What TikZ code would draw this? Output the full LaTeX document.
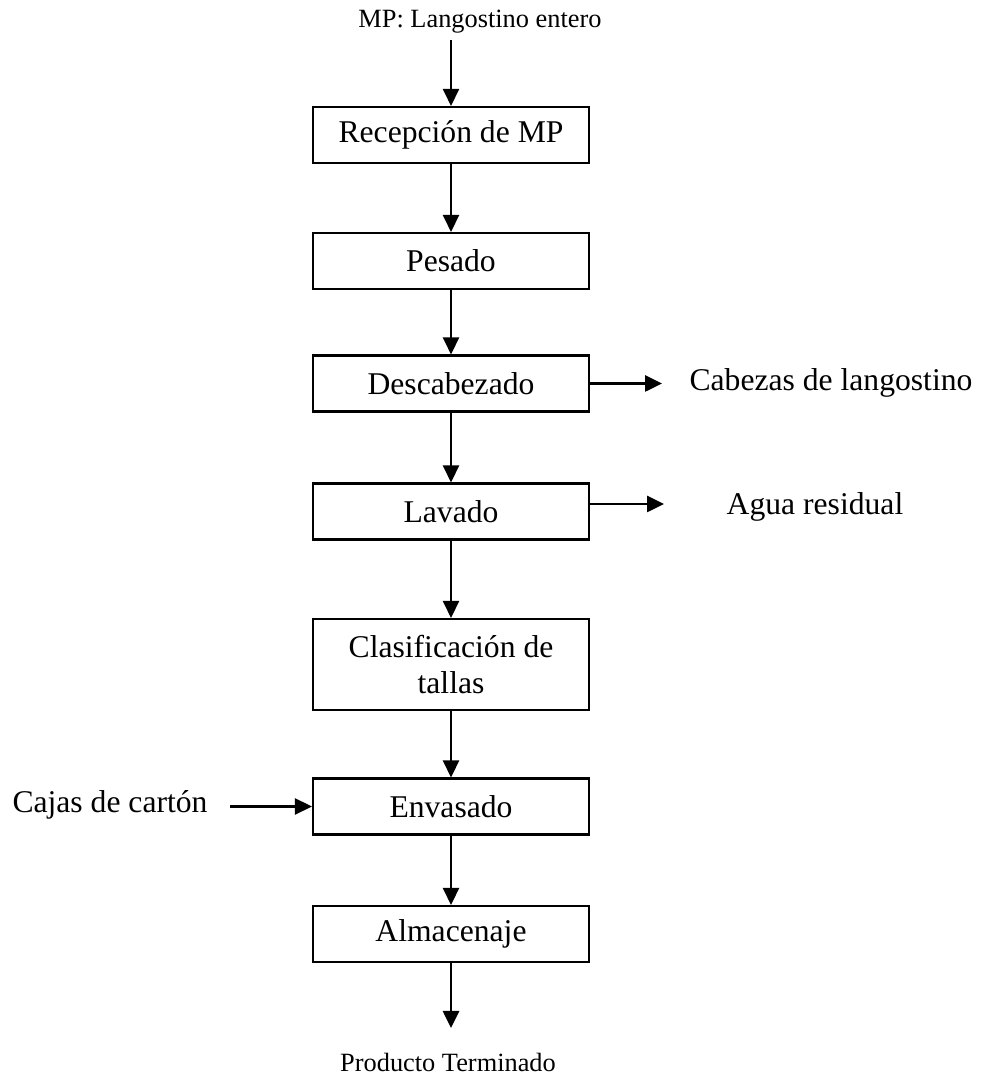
\documentclass[tikz,border=0pt]{standalone}
\usepackage{fontspec}
\setmainfont{Liberation Serif}
\usetikzlibrary{positioning}
\usetikzlibrary{arrows.meta}

\begin{document}
\begin{tikzpicture}[
caja/.style={draw=black, line width=1.2pt, minimum width=5.52cm, minimum height=1.12cm, inner sep=0pt, align=center, font=\fontsize{18}{20}\selectfont},
texto/.style={inner sep=0pt, font=\fontsize{18}{20}\selectfont},
textochico/.style={inner sep=0pt, font=\fontsize{15}{17}\selectfont},
flecha/.style={draw=black, line width=1.5pt, -{Triangle[length=0.34cm,width=0.32cm]}}
]

\useasboundingbox (0,0) rectangle (19.74,21.5);

\node[textochico] (mp) at (9.6,21.06) {MP: Langostino entero};
\coordinate (entrada) at (9.02,20.7);

\node[caja] (recepcion) at (9.02,18.8) {Recepción de MP};
\node[caja] (pesado) at (9.02,16.28) {Pesado};
\node[caja] (descabezado) at (9.02,13.83) {Descabezado};
\node[caja] (lavado) at (9.02,11.27) {Lavado};
\node[caja, minimum height=1.82cm] (clasificacion) at (9.02,8.21) {Clasificación de\\tallas};
\node[caja] (envasado) at (9.02,5.37) {Envasado};
\node[caja] (almacenaje) at (9.02,2.82) {Almacenaje};

\node[textochico] (producto) at (8.96,0.26) {Producto Terminado};
\coordinate (salida) at (9.02,0.94);

\node[texto] (cabezas) at (16.62,13.84) {Cabezas de langostino};
\coordinate (cabezasfin) at (13.24,13.83);

\node[texto] (agua) at (16.3,11.36) {Agua residual};
\coordinate (aguafin) at (13.28,11.42);

\node[texto] (cajas) at (2.2,5.4) {Cajas de cartón};
\coordinate (cajasinicio) at (4.6,5.37);

% flujo principal
\draw[flecha] (entrada) -- (recepcion.north);
\draw[flecha] (recepcion.south) -- (pesado.north);
\draw[flecha] (pesado.south) -- (descabezado.north);
\draw[flecha] (descabezado.south) -- (lavado.north);
\draw[flecha] (lavado.south) -- (clasificacion.north);
\draw[flecha] (clasificacion.south) -- (envasado.north);
\draw[flecha] (envasado.south) -- (almacenaje.north);
\draw[flecha] (almacenaje.south) -- (salida);

% entradas y salidas laterales
\draw[flecha] (descabezado.east) -- (cabezasfin);
\draw[flecha] ([yshift=0.15cm]lavado.east) -- (aguafin);
\draw[flecha] (cajasinicio) -- (envasado.west);

\end{tikzpicture}
\end{document}
